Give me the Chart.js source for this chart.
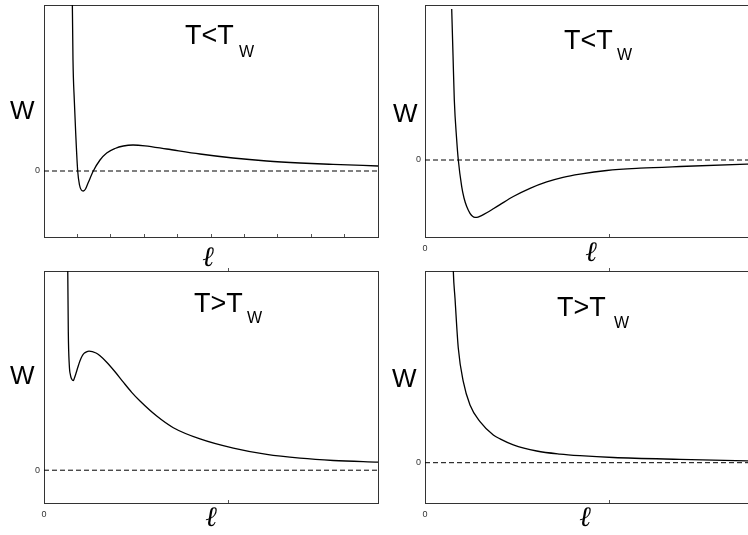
<!DOCTYPE html>
<html>
<head>
<meta charset="utf-8">
<script src="https://cdn.jsdelivr.net/npm/chart.js@4.4.1/dist/chart.umd.min.js"></script>
<style>
  html, body { margin:0; padding:0; background:#fff; }
  body { width:748px; height:535px; position:relative; overflow:hidden; }
  canvas { position:absolute; }
  .lbl { position:absolute; font-family:"Liberation Sans", Arial, sans-serif; color:#000; white-space:nowrap; }
  .main { font-size:27px; line-height:27px; }
  .sub { font-size:16px; line-height:16px; }
  .w { font-size:26px; line-height:26px; }
  .ell { position:absolute; width:40px; text-align:center; font-family:"DejaVu Serif", serif; font-style:italic; font-size:28px; line-height:28px; }
</style>
</head>
<body>
<canvas id="c1"></canvas>
<canvas id="c2"></canvas>
<canvas id="c3"></canvas>
<canvas id="c4"></canvas>

<div class="lbl main" style="left:185px;top:21.5px">T&lt;T</div><div class="lbl sub" style="left:239px;top:43.5px">W</div>
<div class="lbl main" style="left:564px;top:26.5px">T&lt;T</div><div class="lbl sub" style="left:617px;top:46.5px">W</div>
<div class="lbl main" style="left:194px;top:289.5px">T&gt;T</div><div class="lbl sub" style="left:247px;top:309.5px">W</div>
<div class="lbl main" style="left:557px;top:293.5px">T&gt;T</div><div class="lbl sub" style="left:614px;top:314.5px">W</div>

<div class="lbl w" style="left:10px;top:96.6px">W</div>
<div class="lbl w" style="left:393px;top:99.6px">W</div>
<div class="lbl w" style="left:10px;top:361.6px">W</div>
<div class="lbl w" style="left:392px;top:364.6px">W</div>

<div class="ell" style="left:188px;top:242.6px">ℓ</div>
<div class="ell" style="left:571px;top:237.6px">ℓ</div>
<div class="ell" style="left:191px;top:502.6px">ℓ</div>
<div class="ell" style="left:565px;top:502.6px">ℓ</div>

<script>
// ---- data ----
// Panel 1: T<T_W (left)
const p1L = [0.838, 0.868, 0.907, 0.949, 1.009, 1.063, 1.117, 1.177, 1.243, 1.332, 1.476, 1.677, 1.877, 2.126, 2.374, 2.665, 3.024, 3.674, 4.671, 5.659, 6.668, 7.665, 8.653, 10.0];
const p1W = [20.1, 11.1, 7.1, 3.8, 0, -1.4, -1.9, -2.0, -1.8, -1.1, 0, 1.1, 1.8, 2.25, 2.5, 2.6, 2.52, 2.2, 1.7, 1.3, 1.0, 0.8, 0.66, 0.5];
// Panel 2: T<T_W (right)
const p2L = [0.1447, 0.1518, 0.1588, 0.1718, 0.1805, 0.1989, 0.2114, 0.2260, 0.2439, 0.2575, 0.2710, 0.2873, 0.3062, 0.3344, 0.3702, 0.4065, 0.4786, 0.5691, 0.6596, 0.7480, 0.8401, 0.9848, 1.1653, 1.3821, 1.7436, 1.8103];
const p2W = [15.1, 10.5, 6.0, 2.0, 0, -2.67, -3.8, -4.65, -5.33, -5.63, -5.74, -5.71, -5.56, -5.28, -4.88, -4.46, -3.65, -2.83, -2.19, -1.73, -1.41, -1.05, -0.82, -0.65, -0.42, -0.39];
// Panel 3: T>T_W (left)
const p3L = [0.1274, 0.1317, 0.1371, 0.1436, 0.1507, 0.1588, 0.1653, 0.1734, 0.1843, 0.1951, 0.2060, 0.2168, 0.2304, 0.2439, 0.2818, 0.3035, 0.3398, 0.3848, 0.4298, 0.4753, 0.5203, 0.6108, 0.7008, 0.8455, 1.0260, 1.2070, 1.3875, 1.5680, 1.8103];
const p3W = [22.97, 13.8, 10.47, 9.47, 9.07, 8.95, 9.22, 9.67, 10.32, 10.92, 11.37, 11.65, 11.81, 11.87, 11.69, 11.41, 10.77, 9.82, 8.78, 7.77, 6.9, 5.4, 4.24, 3.12, 2.2, 1.57, 1.2, 0.97, 0.8];
// Panel 4: T>T_W (right)
const p4L = [0.1507, 0.1534, 0.1626, 0.1805, 0.2076, 0.2439, 0.2981, 0.3702, 0.4065, 0.4786, 0.6054, 0.7317, 0.8401, 1.0206, 1.3821, 1.7436, 1.8103];
const p4W = [21.27, 19.17, 16.44, 11.44, 8.1, 5.77, 4.1, 2.77, 2.38, 1.78, 1.17, 0.86, 0.7, 0.52, 0.33, 0.18, 0.16];

// tick values
const p1XTicks = [0, 1, 2, 3, 4, 5, 6, 7, 8, 9, 10];
const sXTicks = [0, 1];
const yTicks = [0];

// ---- chart layout: plot-area rectangles in page pixels ----
const panels = [
  {id:'c1', L:44,  T:5,   R:378, B:237, xs:p1L, ys:p1W, xmin:0, xmax:10,   ymin:-6.6, ymax:16.6,  xticks:p1XTicks, xlabel0:false, topTicks:false},
  {id:'c2', L:425, T:5,   R:759, B:237, xs:p2L, ys:p2W, xmin:0, xmax:1.81, ymin:-7.7, ymax:15.5,  xticks:sXTicks,  xlabel0:true,  topTicks:false},
  {id:'c3', L:44,  T:271, R:378, B:503, xs:p3L, ys:p3W, xmin:0, xmax:1.81, ymin:-3.27, ymax:19.87, xticks:sXTicks, xlabel0:true, topTicks:true},
  {id:'c4', L:425, T:271, R:759, B:503, xs:p4L, ys:p4W, xmin:0, xmax:1.81, ymin:-4.03, ymax:19.17, xticks:sXTicks, xlabel0:true, topTicks:true}
];

const PADL = 10, PADT = 20, PADR = 12, PADB = 10, YW = 44, XH = 20;
const FRAME = '#333';
const FONT = '"Liberation Sans", Arial, sans-serif';

panels.forEach(p => {
  const cv = document.getElementById(p.id);
  const left = p.L - YW - PADL, top = p.T - PADT;
  const w = (p.R - p.L) + YW + PADL + PADR;
  const h = (p.B - p.T) + PADT + XH + PADB;
  cv.width = w; cv.height = h;
  cv.style.left = left + 'px'; cv.style.top = top + 'px';
  cv.style.width = w + 'px'; cv.style.height = h + 'px';

  const curve = p.xs.map((x, i) => ({x: x, y: p.ys[i]}));
  const zero = [{x: p.xmin, y: 0}, {x: p.xmax, y: 0}];

  new Chart(cv, {
    type: 'line',
    data: {
      datasets: [
        {data: zero, borderColor: '#000', borderWidth: 1, borderDash: [5, 3], pointRadius: 0, fill: false, tension: 0},
        {data: curve, borderColor: '#000', borderWidth: 1.3, pointRadius: 0, fill: false, cubicInterpolationMode: 'monotone'}
      ]
    },
    options: {
      responsive: false,
      animation: false,
      devicePixelRatio: 1,
      layout: {padding: {left: PADL, top: PADT, right: PADR, bottom: PADB}},
      plugins: {legend: {display: false}, tooltip: {enabled: false}, title: {display: false}},
      scales: {
        x: {
          type: 'linear', position: 'bottom', min: p.xmin, max: p.xmax,
          afterBuildTicks: s => { s.ticks = p.xticks.map(v => ({value: v})); },
          afterFit: s => { s.height = XH; },
          grid: {display: true, drawOnChartArea: false, drawTicks: true, tickLength: -3, color: '#555', lineWidth: 1},
          border: {display: true, color: FRAME, width: 1},
          ticks: {
            autoSkip: false, maxRotation: 0, padding: 9,
            font: {family: FONT, size: 9}, color: '#333',
            callback: v => (p.xlabel0 && v === 0) ? '0' : ''
          }
        },
        x2: {
          type: 'linear', position: 'top', min: p.xmin, max: p.xmax,
          afterBuildTicks: s => { s.ticks = p.topTicks ? [{value: 1}] : []; },
          afterFit: s => { s.height = 0; },
          grid: {display: p.topTicks, drawOnChartArea: false, drawTicks: true, tickLength: 3, color: '#555'},
          border: {display: true, color: FRAME, width: 1},
          ticks: {display: false}
        },
        y: {
          type: 'linear', position: 'left', min: p.ymin, max: p.ymax,
          afterBuildTicks: s => { s.ticks = yTicks.map(v => ({value: v})); },
          afterFit: s => { s.width = YW; },
          grid: {display: false, drawTicks: false},
          border: {display: true, color: FRAME, width: 1},
          ticks: {
            padding: 4,
            font: {family: FONT, size: 9}, color: '#333',
            callback: v => String(v)
          }
        },
        y2: {
          type: 'linear', position: 'right', min: p.ymin, max: p.ymax,
          afterBuildTicks: s => { s.ticks = []; },
          afterFit: s => { s.width = 0; },
          grid: {display: false, drawTicks: false},
          border: {display: true, color: FRAME, width: 1},
          ticks: {display: false}
        }
      }
    }
  });
});
</script>
</body>
</html>
